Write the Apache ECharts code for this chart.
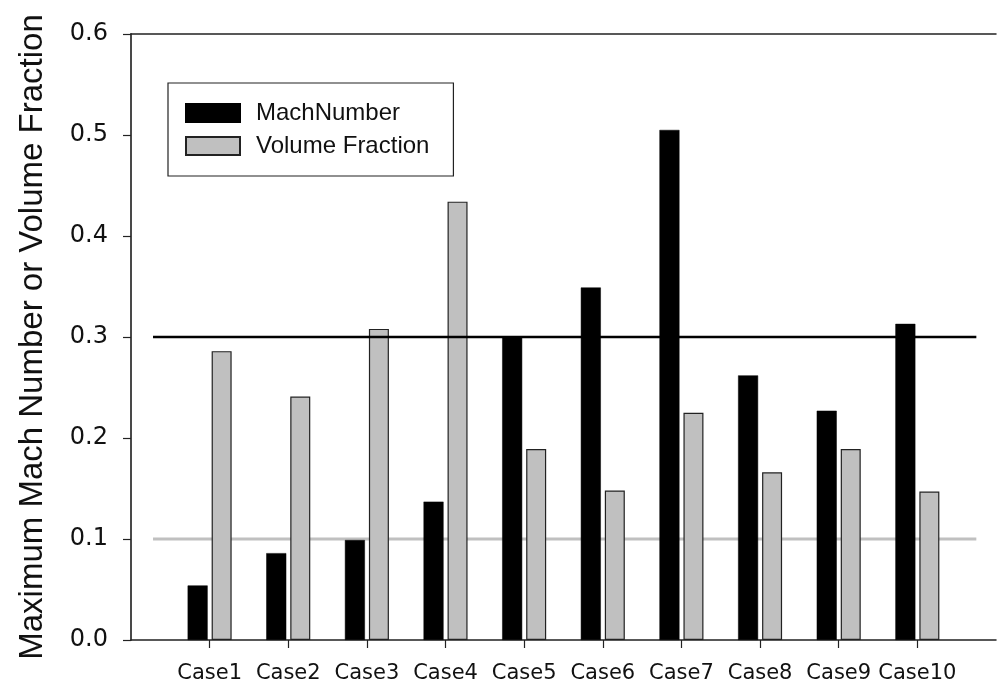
<!DOCTYPE html>
<html>
<head>
<meta charset="utf-8">
<script src="https://cdn.jsdelivr.net/npm/echarts@6/dist/echarts.min.js"></script>
<style>html,body{margin:0;padding:0;background:#fff;}#c{width:997px;height:685px;}</style>
</head>
<body>
<div id="c"></div>
<script>
var categories = ['Case1','Case2','Case3','Case4','Case5','Case6','Case7','Case8','Case9','Case10'];
var machNumber = [0.054, 0.086, 0.099, 0.137, 0.300, 0.349, 0.505, 0.262, 0.227, 0.313];
var volumeFraction = [0.286, 0.241, 0.308, 0.434, 0.189, 0.148, 0.225, 0.166, 0.189, 0.147];
var refLineX = [0.28, 10.75];
var machLimit = 0.3;
var volumeLimit = 0.1;
var yTicks = [0, 0.1, 0.2, 0.3, 0.4, 0.5, 0.6];
var catPositions = categories.map(function(c, i){ return i + 1; });

var chart = echarts.init(document.getElementById('c'));
var axisColor = '#222';
chart.setOption({
  animation: false,
  backgroundColor: '#fff',
  grid: { left: 131, right: 1, top: 34, bottom: 45, containLabel: false },
  legend: {
    orient: 'vertical',
    left: 168, top: 83,
    padding: [18, 24, 18, 17],
    itemWidth: 54, itemHeight: 18, itemGap: 9,
    icon: 'rect',
    borderColor: '#222', borderWidth: 1.2,
    textStyle: { fontFamily: 'Liberation Sans', fontSize: 24, color: '#111', padding: [0, 0, 0, 11] },
    data: ['MachNumber', 'Volume Fraction']
  },
  xAxis: [{
    type: 'value', min: 0, max: catPositions.length + 1, interval: 1,
    position: 'bottom',
    axisLine: { show: true, onZero: false, lineStyle: { color: axisColor, width: 1.5 } },
    axisTick: { show: true, length: 8, customValues: catPositions, lineStyle: { color: axisColor, width: 1.2 } },
    axisLabel: {
      customValues: catPositions,
      formatter: function(v){ return categories[Math.round(v) - 1] || ''; },
      fontFamily: 'DejaVu Sans', fontSize: 21, color: '#111', margin: 23
    },
    splitLine: { show: false }
  }, {
    type: 'value', min: 0, max: catPositions.length + 1, position: 'top',
    axisLine: { show: true, onZero: false, lineStyle: { color: axisColor, width: 1.5 } },
    axisTick: { show: false }, axisLabel: { show: false }, splitLine: { show: false }
  }],
  yAxis: [{
    type: 'value', min: 0, max: 0.6, interval: 0.1,
    name: 'Maximum Mach Number or Volume Fraction',
    nameLocation: 'middle', nameGap: 82,
    nameTextStyle: { fontFamily: 'Liberation Sans', fontSize: 33, color: '#111' },
    axisLine: { show: true, lineStyle: { color: axisColor, width: 1.5 } },
    axisTick: { show: true, length: 8, lineStyle: { color: axisColor, width: 1.2 } },
    axisLabel: {
      formatter: function(v){ return v.toFixed(1); },
      fontFamily: 'DejaVu Sans', fontSize: 24, color: '#111', margin: 23
    },
    splitLine: { show: false }
  }, {
    type: 'value', min: 0, max: 0.6, interval: 0.1, position: 'right',
    axisLine: { show: true, lineStyle: { color: '#444', width: 1.5 } },
    axisTick: { show: false }, axisLabel: { show: false }, splitLine: { show: false }
  }],
  series: [{
    name: 'Volume limit', type: 'line', z: 1, silent: true,
    symbol: 'none',
    lineStyle: { color: '#c0c0c0', width: 3 },
    data: refLineX.map(function(x){ return [x, volumeLimit]; })
  }, {
    name: 'MachNumber', type: 'bar', z: 2,
    barWidth: 20, barGap: '20%',
    itemStyle: { color: '#000', borderColor: '#000', borderWidth: 0.5 },
    data: machNumber.map(function(v, i){ return [catPositions[i], v]; })
  }, {
    name: 'Volume Fraction', type: 'bar', z: 2,
    barWidth: 20, barGap: '20%',
    itemStyle: { color: '#c0c0c0', borderColor: '#222', borderWidth: 1.2 },
    data: volumeFraction.map(function(v, i){ return [catPositions[i], v]; })
  }, {
    name: 'Mach limit', type: 'line', z: 3, silent: true,
    symbol: 'none',
    lineStyle: { color: '#000', width: 2.7 },
    data: refLineX.map(function(x){ return [x, machLimit]; })
  }]
});
</script>
</body>
</html>
